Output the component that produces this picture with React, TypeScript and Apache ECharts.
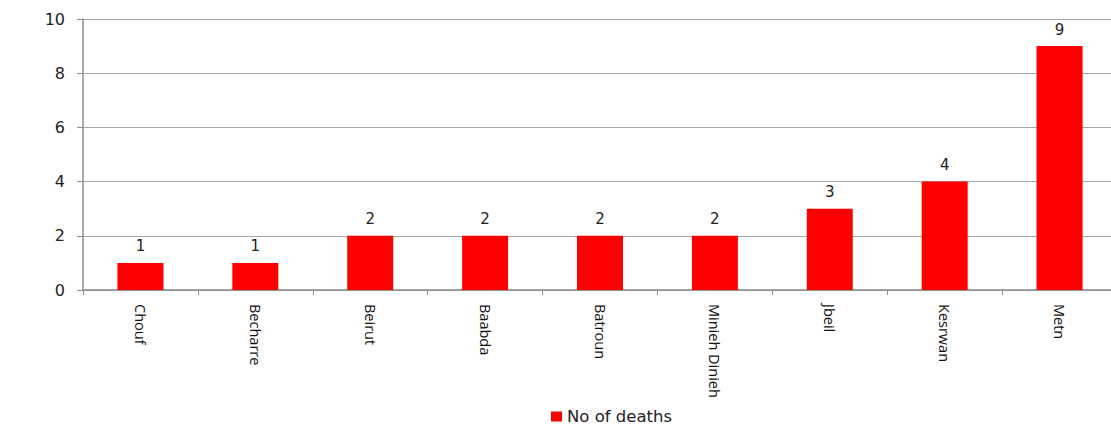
import React, { useEffect, useRef } from "react";
import * as echarts from "echarts";

const categories = ["Chouf", "Becharre", "Beirut", "Baabda", "Batroun", "Minieh Dinieh", "Jbeil", "Kesrwan", "Metn"];
const deaths = [1, 1, 2, 2, 2, 2, 3, 4, 9];
const seriesName = "No of deaths";
const yTicks = { min: 0, max: 10, interval: 2 };

export default function App() {
  const ref = useRef<HTMLDivElement>(null);
  useEffect(() => {
    const chart = echarts.init(ref.current!, null, { renderer: "svg" });
    chart.setOption({
      animation: false,
      textStyle: { fontFamily: "DejaVu Sans" },
      grid: { left: 83, right: 3, top: 19, height: 271, containLabel: false },
      legend: {
        top: 406,
        left: 549,
        padding: 2,
        itemWidth: 11,
        itemHeight: 10,
        itemGap: 6,
        textStyle: { fontSize: 16.5, color: "#222", fontFamily: "DejaVu Sans" },
        data: [{ name: seriesName, icon: "rect" }],
      },
      xAxis: {
        type: "category",
        data: categories,
        axisLine: { lineStyle: { color: "#8c8c8c", width: 1.5 } },
        axisTick: { show: true, length: 5, lineStyle: { color: "#8c8c8c" } },
        axisLabel: { rotate: -90, margin: 14, fontSize: 14.5, color: "#111", interval: 0, fontFamily: "Open Sans" },
      },
      yAxis: {
        type: "value",
        min: yTicks.min,
        max: yTicks.max,
        interval: yTicks.interval,
        axisLine: { show: true, lineStyle: { color: "#8c8c8c", width: 1.5 } },
        axisTick: { show: true, length: 6, lineStyle: { color: "#8c8c8c" } },
        axisLabel: { fontSize: 16, color: "#222", margin: 18 },
        splitLine: { lineStyle: { color: "#a6a6a6", width: 1.2 } },
      },
      series: [
        {
          name: seriesName,
          type: "bar",
          data: deaths,
          barWidth: 46,
          itemStyle: { color: "#ff0000" },
          label: { show: true, position: "top", distance: 9, fontSize: 15, color: "#222" },
        },
      ],
    });
    return () => chart.dispose();
  }, []);
  return (
    <div style={{ position: "absolute", left: 0, top: 0, width: 1111, height: 428, overflow: "hidden", background: "#fff" }}>
      <div ref={ref} style={{ width: 1120, height: 428 }} />
    </div>
  );
}
